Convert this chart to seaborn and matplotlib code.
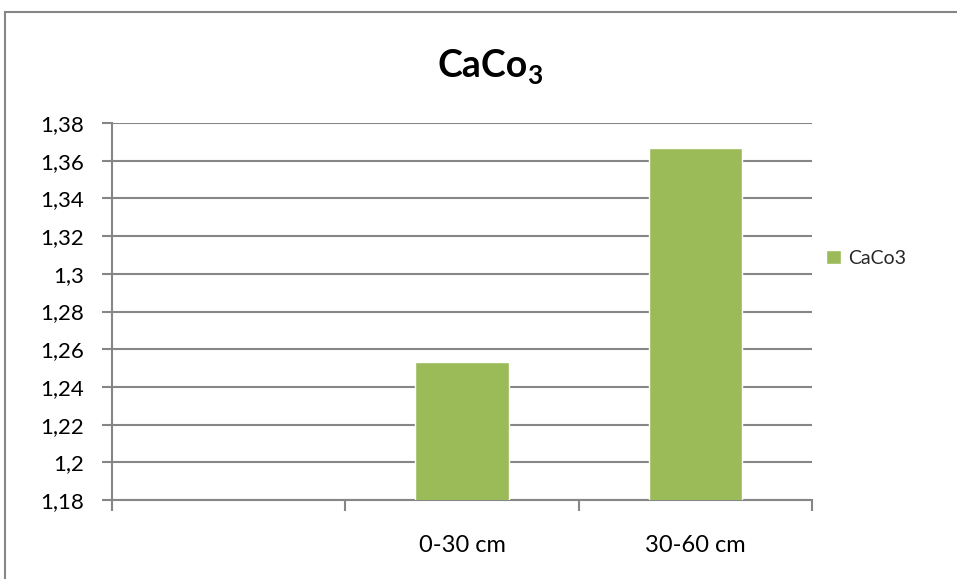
import numpy as np
import pandas as pd
import matplotlib
matplotlib.use("Agg")
import matplotlib.pyplot as plt
from matplotlib.patches import Rectangle
from matplotlib.ticker import FuncFormatter, FixedLocator
import seaborn as sns

# Data
categories = [" ", "0-30 cm", "30-60 cm"]
values = [np.nan, 1.253, 1.367]
series_name = "CaCo3"
y_ticks = [1.18, 1.20, 1.22, 1.24, 1.26, 1.28, 1.30, 1.32, 1.34, 1.36, 1.38]

sns.set_theme(style="white")
plt.rcParams["font.family"] = ["Lato", "DejaVu Sans"]

GRID = "#868686"
GREEN = "#9BBB59"
W, H = 957, 579

df = pd.DataFrame({"depth": categories, "value": values})

fig = plt.figure(figsize=(W / 100, H / 100), dpi=100)
ax = fig.add_axes([112 / W, 1 - 500 / H, 700 / W, 377 / H])

sns.barplot(data=df, x="depth", y="value", order=categories, color=GREEN,
            width=0.4, saturation=1, label=series_name, ax=ax, zorder=3)

ax.set_ylim(1.18, 1.38)
ax.set_xlim(-0.5, 2.5)
ax.set_yticks(y_ticks)
ax.yaxis.set_major_formatter(FuncFormatter(
    lambda v, _: ("%g" % round(v, 2)).replace(".", ",")))
ax.yaxis.grid(True, color=GRID, linewidth=1.5, zorder=0)
ax.set_axisbelow(True)

# category boundaries get tick marks, labels sit at the category centres
ax.xaxis.set_major_locator(FixedLocator([-0.5, 0.5, 1.5, 2.5]))
ax.xaxis.set_minor_locator(FixedLocator([0, 1, 2]))
ax.set_xticklabels([], minor=False)
ax.set_xticklabels(categories, minor=True)
ax.tick_params(axis="x", which="major", length=8, width=1.5, color=GRID,
               direction="out", bottom=True)
ax.tick_params(axis="x", which="minor", length=0, pad=25, labelsize=17,
               labelcolor="black", bottom=True)
ax.tick_params(axis="y", length=7, width=1.5, color=GRID, direction="out",
               left=True, pad=13, labelsize=16, labelcolor="black")
ax.set_xlabel("")
ax.set_ylabel("")

for side in ["top", "right"]:
    ax.spines[side].set_visible(False)
for side in ["left", "bottom"]:
    ax.spines[side].set_color(GRID)
    ax.spines[side].set_linewidth(1.5)

# title "CaCo" with subscript 3
renderer = fig.canvas.get_renderer()
t_main = fig.text(0, 1 - 77 / H, "CaCo", ha="left", va="baseline",
                  fontsize=27, fontweight="bold", color="black")
t_sub = fig.text(0, 1 - 84 / H, "3", ha="left", va="baseline",
                 fontsize=19, fontweight="bold", color="black")
w_main = t_main.get_window_extent(renderer).width
w_sub = t_sub.get_window_extent(renderer).width
gap = 0
x0 = 490 - (w_main + w_sub + gap) / 2
t_main.set_x(x0 / W)
t_sub.set_x((x0 + w_main + gap) / W)

# legend
handles, labels = ax.get_legend_handles_labels()
if ax.get_legend() is not None:
    ax.get_legend().remove()
fig.legend(handles[:1], [series_name], loc="center left",
           bbox_to_anchor=(826 / W, 1 - 258 / H), frameon=False,
           fontsize=14, handlelength=0.75, handleheight=0.75,
           handletextpad=0.4, borderpad=0, borderaxespad=0)

# chart frame
fig.patches.append(Rectangle((5 / W, -0.1), 1.2, 1 - 12 / H + 0.1,
                             transform=fig.transFigure, fill=False,
                             edgecolor=GRID, linewidth=1.5))

fig.savefig("out.png", dpi=100)
